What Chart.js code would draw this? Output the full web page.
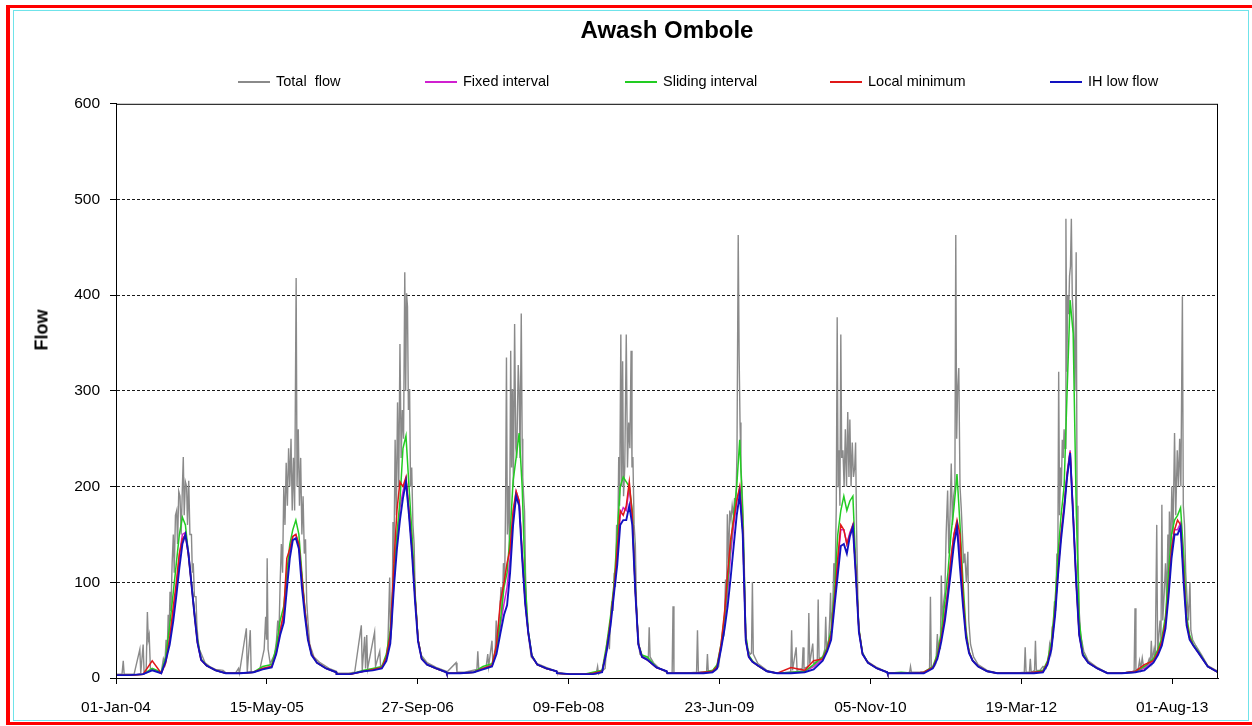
<!DOCTYPE html>
<html>
<head>
<meta charset="utf-8">
<title>Awash Ombole</title>
<script src="https://cdn.jsdelivr.net/npm/chart.js@4.4.1/dist/chart.umd.min.js"></script>
<style>
  html, body { margin: 0; padding: 0; background: #fff; }
  body { width: 1252px; height: 726px; position: relative; overflow: hidden;
         font-family: 'Liberation Sans', Arial, sans-serif; }
  #frameRed { position: absolute; left: 6px; top: 5px; width: 1300px; height: 720px;
              border-left: 4px solid #f00; border-top: 3px solid #f00; border-bottom: 3px solid #f00;
              box-sizing: border-box; }
  #frameCyan { position: absolute; left: 13px; top: 10px; width: 1236px; height: 711px;
               border: 1px solid #6fe3ea; box-sizing: border-box; }
  #chart { position: absolute; left: 0; top: 0; }
  #legend { position: absolute; left: 0; top: 72px; width: 1252px; height: 18px; }
  .item { position: absolute; top: 0; height: 18px; line-height: 18px; font-size: 14.5px; color: #000;
          white-space: pre; }
  .item i { display: inline-block; width: 32px; height: 0; vertical-align: middle; margin-right: 6px;
            border-top: 2px solid; }
  #ytitle { position: absolute; left: 42px; top: 330px; transform: translate(-50%, -50%) rotate(-90deg);
            font-weight: bold; font-size: 18px; color: #000; }
</style>
</head>
<body>
<div id="frameRed"></div>
<div id="frameCyan"></div>
<canvas id="chart" width="1252" height="726"></canvas>
<div id="legend"></div>
<div id="ytitle">Flow</div>
<script>
// hydrological years shown, and the day-of-year points the baseflow curves are read at
const years = [2004, 2005, 2006, 2007, 2008, 2009, 2010, 2011, 2012, 2013];
const keyDoy = [0, 45, 90, 120, 150, 165, 178, 190, 200, 210, 220, 230, 240, 250, 260, 270, 282, 300, 330, 364];

// axis labels every 500 days from 01-Jan-2004
const tickLabels = ['01-Jan-04', '15-May-05', '27-Sep-06', '09-Feb-08', '23-Jun-09', '05-Nov-10', '19-Mar-12', '01-Aug-13'];
const seriesNames = ['Total  flow', 'Fixed interval', 'Sliding interval', 'Local minimum', 'IH low flow'];

// baseflow separations, one row per year (values at keyDoy)
const fixedInterval = [
  [3, 3, 4, 9, 5, 20, 40, 68, 95, 128, 150, 152, 132, 100, 68, 38, 19, 13, 8, 5],
  [5, 5, 6, 10, 12, 28, 50, 65, 100, 132, 148, 150, 138, 105, 70, 42, 25, 16, 10, 6],
  [4, 4, 7, 9, 11, 20, 40, 100, 145, 178, 195, 208, 172, 135, 85, 40, 20, 14, 10, 6],
  [5, 5, 6, 10, 13, 28, 55, 78, 95, 125, 170, 195, 185, 130, 80, 48, 23, 14, 10, 7],
  [5, 4, 4, 5, 7, 30, 60, 95, 130, 170, 178, 175, 200, 165, 92, 36, 22, 19, 11, 7],
  [5, 5, 5, 6, 7, 12, 32, 58, 90, 130, 160, 185, 198, 155, 40, 22, 17, 13, 7, 5],
  [5, 6, 7, 12, 20, 30, 45, 85, 120, 155, 155, 140, 152, 160, 110, 50, 25, 16, 10, 6],
  [5, 5, 5, 6, 11, 22, 42, 68, 95, 125, 150, 162, 130, 80, 45, 27, 18, 12, 7, 5],
  [5, 5, 5, 6, 7, 16, 33, 70, 115, 150, 180, 215, 238, 172, 105, 46, 24, 16, 10, 5],
  [5, 5, 7, 10, 18, 27, 38, 58, 95, 135, 155, 155, 162, 110, 58, 42, 34, 26, 12, 6]
];
const slidingInterval = [
  [3, 3, 4, 10, 6, 22, 55, 90, 120, 150, 168, 160, 130, 100, 68, 40, 20, 13, 8, 5],
  [5, 5, 6, 12, 14, 32, 60, 75, 110, 140, 155, 165, 150, 110, 72, 42, 25, 16, 10, 6],
  [4, 4, 8, 10, 12, 25, 50, 110, 150, 185, 240, 253, 200, 150, 90, 40, 21, 14, 10, 6],
  [5, 5, 6, 12, 15, 32, 60, 95, 110, 150, 206, 230, 256, 200, 100, 50, 24, 14, 10, 7],
  [5, 4, 4, 6, 8, 35, 65, 100, 150, 200, 210, 205, 200, 175, 95, 36, 24, 22, 11, 7],
  [5, 5, 5, 6, 8, 14, 35, 65, 100, 140, 170, 200, 249, 170, 45, 24, 18, 13, 7, 5],
  [5, 6, 7, 14, 22, 32, 50, 95, 150, 175, 190, 175, 185, 190, 115, 52, 26, 16, 10, 6],
  [5, 6, 5, 6, 12, 25, 48, 80, 110, 150, 178, 213, 160, 100, 50, 28, 18, 12, 7, 5],
  [5, 5, 5, 6, 8, 18, 38, 80, 130, 170, 200, 300, 395, 360, 180, 60, 26, 16, 10, 5],
  [5, 5, 7, 12, 20, 30, 42, 65, 110, 150, 165, 170, 178, 130, 65, 45, 35, 27, 12, 6]
];
const localMinimum = [
  [3, 3, 4, 18, 5, 16, 42, 75, 100, 130, 145, 150, 128, 98, 66, 37, 19, 13, 8, 5],
  [5, 5, 6, 10, 12, 26, 48, 70, 125, 135, 148, 150, 140, 105, 72, 42, 25, 16, 10, 6],
  [4, 4, 7, 9, 11, 22, 45, 120, 175, 205, 200, 210, 175, 135, 85, 40, 20, 14, 10, 6],
  [5, 5, 6, 10, 13, 35, 80, 100, 120, 135, 175, 195, 185, 130, 80, 48, 23, 14, 10, 7],
  [5, 4, 4, 5, 7, 30, 60, 95, 135, 175, 170, 180, 205, 170, 92, 36, 22, 19, 11, 7],
  [5, 5, 5, 6, 7, 12, 35, 70, 110, 145, 165, 185, 200, 155, 40, 22, 17, 13, 7, 5],
  [5, 11, 8, 18, 20, 30, 45, 85, 125, 160, 155, 140, 150, 160, 110, 50, 25, 16, 10, 6],
  [5, 5, 5, 6, 11, 22, 42, 65, 90, 125, 150, 165, 150, 85, 45, 27, 18, 12, 7, 5],
  [5, 5, 5, 6, 7, 16, 33, 70, 112, 150, 178, 212, 236, 170, 100, 46, 24, 16, 10, 5],
  [5, 5, 7, 14, 18, 27, 38, 58, 90, 135, 155, 165, 160, 110, 58, 42, 34, 26, 12, 6]
];
const ihLowFlow = [
  [3, 3, 4, 8, 5, 18, 35, 60, 86, 115, 140, 150, 130, 98, 66, 37, 19, 13, 8, 5],
  [5, 5, 6, 9, 11, 25, 45, 58, 92, 125, 144, 146, 135, 95, 65, 40, 24, 16, 10, 6],
  [4, 4, 7, 8, 10, 18, 36, 95, 135, 165, 188, 205, 170, 130, 80, 38, 20, 14, 10, 6],
  [5, 5, 6, 9, 12, 25, 47, 66, 76, 110, 160, 190, 180, 125, 78, 48, 23, 14, 10, 7],
  [5, 4, 4, 4, 6, 28, 55, 90, 118, 160, 165, 165, 180, 160, 90, 35, 22, 19, 11, 7],
  [5, 5, 5, 5, 6, 10, 30, 52, 75, 105, 138, 170, 192, 150, 39, 22, 17, 13, 7, 5],
  [5, 5, 6, 9, 18, 28, 40, 78, 108, 138, 140, 130, 148, 158, 105, 48, 25, 16, 10, 6],
  [5, 5, 5, 5, 10, 20, 38, 60, 85, 112, 140, 158, 115, 75, 42, 26, 18, 12, 7, 5],
  [5, 5, 5, 5, 6, 14, 30, 65, 108, 145, 175, 210, 235, 168, 100, 45, 24, 16, 10, 5],
  [5, 5, 6, 8, 16, 24, 34, 52, 85, 125, 150, 150, 158, 100, 55, 40, 34, 26, 12, 6]
];

// observed total flow, [day of year, flow] per year
const totalFlow = [
  [[0,4],[20,4],[24,18],[27,4],[60,4],[79,30],[82,5],[90,35],[93,6],[100,8],[104,69],[107,40],[110,45],[114,10],[130,8],[150,6],[157,20],[162,15],[166,40],[170,30],[173,66],[176,45],[179,90],[182,70],[186,120],[190,150],[193,110],[197,170],[201,175],[204,140],[208,195],[212,190],[216,150],[220,200],[223,231],[226,170],[230,205],[234,200],[237,160],[241,206],[245,150],[250,150],[253,110],[256,120],[260,85],[265,85],[268,55],[272,40],[276,30],[283,25],[295,16],[311,12],[330,9],[355,8]],
  [[0,5],[30,5],[40,10],[43,5],[66,52],[69,6],[79,50],[82,6],[110,8],[125,30],[130,64],[133,40],[135,125],[138,30],[145,15],[160,25],[166,40],[170,60],[174,45],[178,100],[182,140],[186,110],[190,200],[194,160],[198,225],[202,180],[206,240],[210,200],[214,250],[218,175],[222,230],[226,175],[231,418],[234,200],[238,260],[242,180],[246,230],[250,150],[254,190],[258,130],[262,145],[266,80],[270,60],[276,35],[290,22],[310,16],[340,10],[364,7]],
  [[0,5],[40,5],[60,6],[82,55],[85,8],[93,43],[96,10],[100,45],[103,10],[126,48],[129,12],[143,28],[146,12],[155,14],[165,20],[170,35],[176,105],[179,40],[184,60],[187,163],[190,120],[194,249],[198,170],[202,288],[206,200],[210,349],[214,230],[218,280],[222,250],[226,424],[229,300],[232,402],[235,388],[238,280],[242,302],[245,200],[249,220],[253,160],[257,140],[261,80],[265,65],[270,40],[280,24],[300,16],[330,11],[364,7]],
  [[0,6],[31,16],[34,6],[60,6],[100,9],[103,28],[106,10],[130,10],[136,25],[139,12],[150,39],[153,15],[160,22],[164,60],[167,30],[172,55],[176,70],[180,95],[184,70],[188,120],[192,100],[195,180],[198,335],[201,150],[205,200],[208,130],[212,342],[215,220],[218,302],[221,200],[225,370],[229,240],[232,230],[237,327],[240,300],[243,230],[247,381],[250,250],[252,210],[255,190],[258,174],[261,110],[265,71],[270,46],[280,22],[300,15],[330,11],[364,7]],
  [[0,6],[40,4],[100,4],[130,4],[135,12],[138,4],[160,10],[165,35],[170,43],[174,30],[178,60],[182,80],[186,70],[190,110],[194,95],[198,160],[202,150],[205,231],[208,180],[212,359],[215,200],[218,331],[221,190],[225,220],[230,359],[234,220],[238,267],[242,240],[246,342],[249,220],[252,231],[256,160],[260,140],[264,75],[268,50],[275,25],[290,22],[303,20],[306,53],[309,22],[320,16],[340,10],[364,6]],
  [[0,5],[16,5],[19,75],[22,5],[60,5],[97,6],[100,50],[103,6],[130,6],[133,25],[136,6],[160,8],[170,12],[177,30],[183,40],[188,45],[193,103],[196,75],[199,171],[203,120],[207,175],[211,165],[215,180],[219,170],[223,188],[227,175],[231,238],[235,463],[238,338],[241,267],[244,220],[248,196],[252,160],[256,105],[260,45],[266,30],[275,25],[279,26],[282,100],[285,25],[300,15],[330,8],[364,5]],
  [[0,5],[30,5],[44,6],[47,50],[50,8],[62,32],[65,8],[82,10],[85,32],[88,10],[101,12],[104,68],[107,15],[117,36],[120,15],[132,18],[135,82],[138,20],[150,22],[157,30],[160,64],[163,30],[170,40],[173,60],[176,89],[179,50],[183,70],[187,120],[191,100],[195,180],[198,377],[201,200],[204,238],[207,180],[210,359],[213,230],[217,238],[221,200],[225,260],[229,200],[233,278],[237,210],[240,270],[244,200],[248,246],[252,210],[256,220],[259,246],[262,160],[265,110],[268,60],[272,45],[280,28],[295,18],[330,11],[364,6]],
  [[0,5],[60,5],[73,6],[76,12],[79,6],[120,6],[139,8],[142,85],[145,10],[155,12],[160,15],[165,46],[168,22],[172,40],[175,30],[178,107],[182,55],[186,80],[190,90],[194,150],[199,196],[203,130],[207,170],[211,224],[215,160],[219,190],[223,200],[226,463],[229,250],[232,300],[236,324],[240,200],[244,178],[248,150],[252,120],[256,130],[261,100],[266,132],[269,60],[275,35],[285,22],[300,14],[330,8],[364,5]],
  [[0,5],[60,5],[88,6],[91,32],[94,6],[105,6],[108,20],[111,6],[122,8],[125,39],[128,8],[140,8],[150,12],[160,10],[168,20],[172,35],[176,28],[180,50],[184,45],[188,80],[192,70],[196,130],[199,110],[202,320],[205,170],[208,220],[211,200],[214,249],[217,230],[220,260],[223,240],[226,480],[229,320],[232,400],[235,380],[238,420],[241,430],[244,480],[247,400],[250,380],[253,350],[256,300],[260,445],[263,180],[266,130],[270,70],[275,45],[285,28],[300,18],[330,11],[364,5]],
  [[0,5],[60,5],[86,6],[89,73],[92,8],[100,10],[104,18],[108,10],[113,21],[117,12],[130,14],[136,20],[140,16],[143,39],[146,18],[152,30],[156,20],[161,160],[164,25],[168,45],[172,60],[175,40],[178,181],[181,60],[186,90],[190,120],[194,80],[198,150],[201,100],[203,174],[207,130],[211,200],[215,150],[220,256],[224,170],[229,238],[233,200],[237,250],[241,200],[246,399],[249,180],[253,160],[257,110],[262,80],[266,60],[271,100],[274,50],[280,40],[290,34],[310,24],[330,13],[364,7]]
];

const colors = ['#8a8a8a', '#d020d0', '#22cc22', '#e01818', '#1212c0'];

// x axis is days since 01-Jan-2004
const DAY_MS = 86400000;
const dayOfYearStart = y => (Date.UTC(y, 0, 1) - Date.UTC(2004, 0, 1)) / DAY_MS;

function keyedSeries(rows) {
  return years.flatMap((y, i) => keyDoy.map((d, j) => ({ x: dayOfYearStart(y) + d, y: rows[i][j] })));
}
function pairSeries(rows) {
  return years.flatMap((y, i) => rows[i].map(([d, v]) => ({ x: dayOfYearStart(y) + d, y: v })));
}

const seriesData = [
  pairSeries(totalFlow),
  keyedSeries(fixedInterval),
  keyedSeries(slidingInterval),
  keyedSeries(localMinimum),
  keyedSeries(ihLowFlow)
];
const widths = [1.4, 1.5, 1.5, 1.5, 1.9];

const datasets = seriesNames.map((name, i) => ({
  label: name,
  data: seriesData[i],
  borderColor: colors[i],
  backgroundColor: colors[i],
  borderWidth: widths[i],
  pointRadius: 0,
  tension: 0,
  order: seriesNames.length - i   // total flow underneath, IH low flow on top
}));

// legend row
const legendLefts = [238, 425, 625, 830, 1050];
const legendEl = document.getElementById('legend');
seriesNames.forEach((name, i) => {
  const it = document.createElement('div');
  it.className = 'item';
  it.style.left = legendLefts[i] + 'px';
  it.innerHTML = '<i style="border-color:' + colors[i] + '"></i>' + name;
  legendEl.appendChild(it);
});

const plotFrame = {
  id: 'plotFrame',
  afterDatasetsDraw(chart) {
    const a = chart.chartArea, ctx = chart.ctx;
    ctx.save();
    ctx.strokeStyle = '#000';
    ctx.lineWidth = 1;
    ctx.strokeRect(a.left + 0.5, a.top + 0.5, a.right - a.left - 1, a.bottom - a.top);
    ctx.restore();
  }
};

const font = { family: "'Liberation Sans', Arial, sans-serif", size: 15.5 };

new Chart(document.getElementById('chart'), {
  type: 'line',
  data: { datasets },
  options: {
    responsive: false,
    animation: false,
    events: [],
    layout: { padding: { left: 20, right: 34, top: 8, bottom: 8 } },
    plugins: {
      legend: { display: false },
      tooltip: { enabled: false },
      title: {
        display: true,
        fullSize: false,
        text: 'Awash Ombole',
        color: '#000',
        font: { family: "'Liberation Sans', Arial, sans-serif", size: 24, weight: 'bold' },
        padding: { top: 9, bottom: 58 }
      }
    },
    scales: {
      x: {
        type: 'linear',
        min: 0,
        max: 3652,
        afterFit: s => { s.height = 40; },
        // one tick every 500 days, one per label
        afterBuildTicks: s => { s.ticks = tickLabels.map((_, i) => ({ value: i * 500 })); },
        grid: { drawOnChartArea: false, drawTicks: true, tickLength: 6, tickColor: '#000' },
        border: { display: true, color: '#000', width: 1 },
        ticks: {
          autoSkip: false,
          maxRotation: 0,
          padding: 14,
          color: '#000',
          font,
          callback: v => tickLabels[Math.round(v / 500)]
        }
      },
      y: {
        min: 0,
        max: 600,
        afterFit: s => { s.width = 96; },
        grid: {
          color: c => (c.tick && (c.tick.value === 0 || c.tick.value === 600)) ? 'rgba(0,0,0,0)' : '#1a1a1a',
          lineWidth: 1,
          tickLength: 6,
          tickColor: '#000'
        },
        border: { display: true, color: '#000', width: 1, dash: [3, 2] },
        ticks: { stepSize: 100, padding: 10, color: '#000', font }
      }
    }
  },
  plugins: [plotFrame]
});
</script>
</body>
</html>
